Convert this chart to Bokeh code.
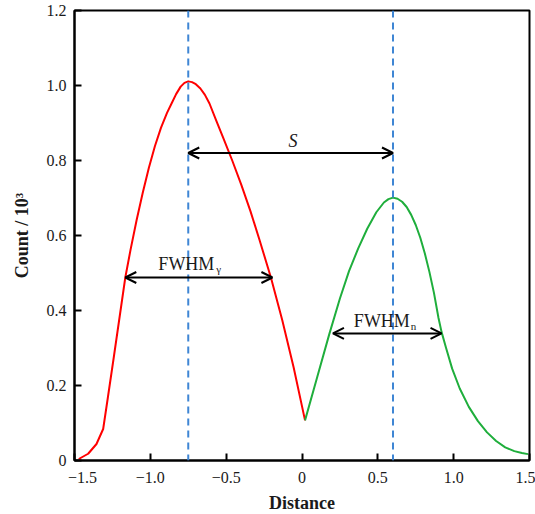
from bokeh.plotting import figure
from bokeh.models import Span, Arrow, OpenHead, Label, FixedTicker, Range1d
from bokeh.embed import file_html
from bokeh.resources import INLINE

# ---- data ----
red_x = [-1.472, -1.41, -1.355, -1.311, -1.28, -1.24, -1.20, -1.165, -1.13, -1.09, -1.05,
         -1.01, -0.97, -0.93, -0.89, -0.86, -0.83, -0.80, -0.775, -0.75, -0.725, -0.70,
         -0.67, -0.64, -0.61, -0.566, -0.52, -0.46, -0.40, -0.34, -0.28, -0.205,
         -0.13, -0.055, 0.02]
red_y = [0.004, 0.018, 0.044, 0.084, 0.168, 0.278, 0.39, 0.488, 0.563, 0.642, 0.714,
         0.780, 0.838, 0.887, 0.927, 0.952, 0.977, 0.997, 1.007, 1.011, 1.009, 1.0035,
         0.992, 0.975, 0.952, 0.907, 0.861, 0.800, 0.735, 0.665, 0.588, 0.488,
         0.374, 0.248, 0.107]

green_x = [0.02, 0.10, 0.18, 0.25, 0.31, 0.37, 0.43, 0.49, 0.54, 0.57, 0.60, 0.63, 0.66,
           0.69, 0.72, 0.75, 0.78, 0.81, 0.84, 0.87, 0.90, 0.92, 0.95, 0.99, 1.04, 1.10,
           1.16, 1.22, 1.28, 1.34, 1.40, 1.45, 1.49]
green_y = [0.107, 0.222, 0.337, 0.432, 0.505, 0.565, 0.618, 0.662, 0.688, 0.697, 0.701,
           0.698, 0.690, 0.676, 0.655, 0.628, 0.594, 0.552, 0.503, 0.447, 0.380, 0.343,
           0.300, 0.245, 0.192, 0.143, 0.105, 0.075, 0.052, 0.035, 0.025, 0.020, 0.017]

peak_x = [-0.75, 0.60]
s_arrow = [-0.75, 0.60, 0.82]            # x_start, x_end, y
fwhm_g_arrow = [-1.165, -0.195, 0.488]
fwhm_n_arrow = [0.204, 0.92, 0.339]

x_ticks = [-1.5, -1.0, -0.5, 0, 0.5, 1.0, 1.5]
x_tick_labels = ["\u22121.5", "\u22121.0", "\u22120.5", "0", "0.5", "1.0", "1.5"]
y_ticks = [0, 0.2, 0.4, 0.6, 0.8, 1.0, 1.2]
y_tick_labels = ["0", "0.2", "0.4", "0.6", "0.8", "1.0", "1.2"]

FONT = "Liberation Serif"
TXT = "#1a1a1a"
NB = "\u00a0"

p = figure(frame_width=455, frame_height=450, min_border_left=74, min_border_top=10,
           min_border_right=6, min_border_bottom=40,
           x_range=Range1d(-1.5, 1.5), y_range=Range1d(0, 1.2),
           output_backend="svg", toolbar_location=None)
p.grid.visible = False
p.outline_line_color = "black"
p.outline_line_width = 2
p.background_fill_color = "white"
p.border_fill_color = "white"

for ax in (p.xaxis[0], p.yaxis[0]):
    ax.axis_line_width = 2
    ax.major_tick_line_width = 2
    ax.major_tick_in = 7
    ax.major_tick_out = 0
    ax.minor_tick_line_color = None
    ax.major_label_text_font = FONT
    ax.major_label_text_font_size = "16px"
    ax.major_label_text_color = TXT
    ax.axis_label_text_font = FONT
    ax.axis_label_text_font_size = "18px"
    ax.axis_label_text_font_style = "bold"
    ax.axis_label_text_color = TXT

p.xaxis.ticker = FixedTicker(ticks=x_ticks)
ov = {t: l for t, l in zip(x_ticks, x_tick_labels)}
# nudge the left edge label inward, as in the reference
ov[x_ticks[0]] = NB * 4 + x_tick_labels[0]
p.xaxis.major_label_overrides = ov
p.xaxis.major_label_standoff = 8
p.xaxis.axis_label = "Distance"
p.xaxis.axis_label_standoff = 4

p.yaxis.ticker = FixedTicker(ticks=y_ticks)
p.yaxis.major_label_overrides = {t: l for t, l in zip(y_ticks, y_tick_labels)}
p.yaxis.major_label_standoff = 8
p.yaxis.axis_label = "Count / 10\u00b3"
p.yaxis.axis_label_standoff = 12

# dashed peak markers
for px in peak_x:
    p.add_layout(Span(location=px, dimension="height", line_color="#3f86d4",
                      line_width=2, line_dash="7 5"))

p.line(red_x, red_y, line_color="#ff0000", line_width=2, line_join="round")
p.line(green_x, green_y, line_color="#1fae3c", line_width=2, line_join="round")

def add_arrow(a):
    p.add_layout(Arrow(x_start=a[0], y_start=a[2], x_end=a[1], y_end=a[2],
                       line_color="black", line_width=2,
                       start=OpenHead(size=11, line_width=2, line_color="black"),
                       end=OpenHead(size=11, line_width=2, line_color="black")))

add_arrow(s_arrow)
add_arrow(fwhm_g_arrow)
add_arrow(fwhm_n_arrow)

def txt(x, y, t, size="18px", style="normal", xo=0, yo=0, align="left"):
    p.add_layout(Label(x=x, y=y, x_offset=xo, y_offset=yo, text=t, text_font=FONT,
                       text_font_size=size, text_font_style=style, text_color=TXT,
                       text_align=align, text_baseline="alphabetic"))

txt(-0.06, 0.853, "S", style="italic", align="center")
txt(-0.947, 0.525, "FWHM")
txt(-0.947, 0.525, "\u03b3", size="11px", xo=58, yo=-5)
txt(0.342, 0.373, "FWHM")
txt(0.342, 0.373, "n", size="11px", xo=57, yo=-5)

open("out.html", "w").write(file_html(p, INLINE))
